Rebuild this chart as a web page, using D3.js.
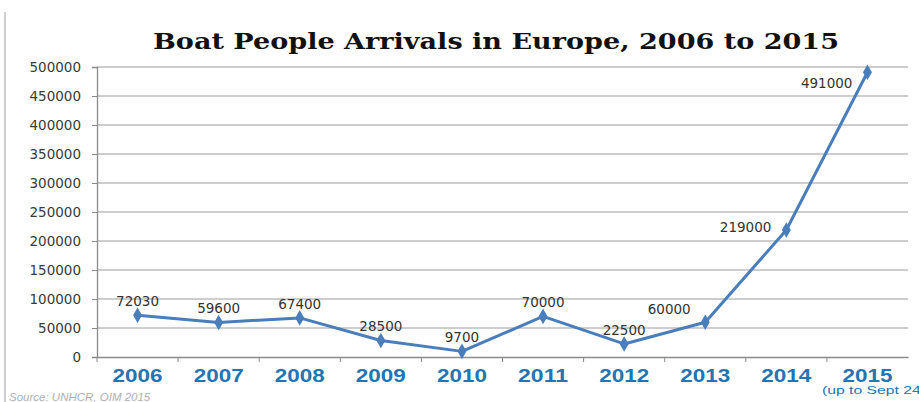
<!DOCTYPE html>
<html lang="en">
<head>
<meta charset="UTF-8">
<title>Boat People Arrivals in Europe, 2006 to 2015</title>
<script src="https://d3js.org/d3.v7.min.js"></script>
<style>
  body { margin: 0; background: #fff; }
  .tick-y { font-family: 'DejaVu Sans', sans-serif; font-size: 13.5px; fill: #3a3a3a; }
  .tick-x { font-family: 'Liberation Sans', Arial, sans-serif; font-weight: bold; font-size: 18.5px; fill: #2474b3; }
  .val { font-family: 'DejaVu Sans', sans-serif; font-size: 13.5px; fill: #333; }
</style>
</head>
<body>
<svg width="919" height="402"></svg>
<script>
const years = ["2006", "2007", "2008", "2009", "2010", "2011", "2012", "2013", "2014", "2015"];
const arrivals = [72030, 59600, 67400, 28500, 9700, 70000, 22500, 60000, 219000, 491000];
const yTicks = [0, 50000, 100000, 150000, 200000, 250000, 300000, 350000, 400000, 450000, 500000];

const width = 919, height = 402;
const margin = { left: 97, right: 11, top: 67, bottom: 45 };

const svg = d3.select("svg");

// left page border
svg.append("line")
  .attr("x1", 5).attr("x2", 5).attr("y1", 12).attr("y2", height)
  .attr("stroke", "#cfcfcf").attr("stroke-width", 2);

const x = d3.scaleBand()
  .domain(years)
  .range([margin.left, width - margin.right]);

const y = d3.scaleLinear()
  .domain([0, 500000])
  .range([height - margin.bottom, margin.top]);

// gridlines
svg.append("g")
  .selectAll("line")
  .data(yTicks.slice(1))
  .enter().append("line")
  .attr("x1", margin.left).attr("x2", width - margin.right)
  .attr("y1", d => y(d)).attr("y2", d => y(d))
  .attr("stroke", "#bdbdbd").attr("stroke-width", 1.3);

// y axis
const yAxis = svg.append("g")
  .attr("transform", `translate(${margin.left},0)`)
  .call(d3.axisLeft(y).tickValues(yTicks).tickSize(5).tickPadding(11).tickFormat(d3.format("d")));
yAxis.select(".domain").attr("stroke", "#8a8a8a").attr("stroke-width", 1.3);
yAxis.selectAll(".tick line").attr("stroke", "#8a8a8a");
yAxis.selectAll(".tick text").attr("class", "tick-y").attr("fill", null);

// x axis
const xAxis = svg.append("g")
  .attr("transform", `translate(0,${y(0)})`)
  .call(d3.axisBottom(x).tickSize(0).tickPadding(12));
xAxis.select(".domain").attr("stroke", "#8a8a8a").attr("stroke-width", 1.3);
xAxis.selectAll(".tick text")
  .attr("class", "tick-x").attr("fill", null)
  .attr("textLength", 50).attr("lengthAdjust", "spacingAndGlyphs");
xAxis.selectAll(".sep")
  .data(years)
  .enter().append("line")
  .attr("x1", d => x(d)).attr("x2", d => x(d))
  .attr("y1", 0).attr("y2", 5)
  .attr("stroke", "#8a8a8a");

// line
const cx = d => x(d) + x.bandwidth() / 2;
const line = d3.line()
  .x((d, i) => cx(years[i]))
  .y(d => y(d));

svg.append("path")
  .datum(arrivals)
  .attr("d", line)
  .attr("fill", "none")
  .attr("stroke", "#4a7ebb")
  .attr("stroke-width", 3)
  .attr("stroke-linejoin", "round");

svg.append("g")
  .selectAll("path")
  .data(arrivals)
  .enter().append("path")
  .attr("d", d3.symbol(d3.symbolDiamond, 70))
  .attr("transform", (d, i) => `translate(${cx(years[i])},${y(d)})`)
  .attr("fill", "#4a7ebb");

// value labels: last three sit to the left of their point
svg.append("g")
  .selectAll("text")
  .data(arrivals)
  .enter().append("text")
  .attr("class", "val")
  .attr("x", (d, i) => i < 7 ? cx(years[i]) : i === 7 ? cx(years[i]) - 36 : cx(years[i]) - 15)
  .attr("y", (d, i) => i < 7 ? y(d) - 9 : i === 7 ? y(d) - 8 : i === 8 ? y(d) + 2 : y(d) + 16)
  .attr("text-anchor", (d, i) => i < 8 ? "middle" : "end")
  .text(d => d);

// title
svg.append("text")
  .attr("x", 496).attr("y", 49)
  .attr("text-anchor", "middle")
  .attr("font-family", "'DejaVu Serif', serif")
  .attr("font-weight", "bold")
  .attr("font-size", 23)
  .attr("fill", "#111")
  .attr("textLength", 686)
  .attr("lengthAdjust", "spacingAndGlyphs")
  .text("Boat People Arrivals in Europe, 2006 to 2015");

// note under 2015 (runs off the right edge, as in the source image)
svg.append("text")
  .attr("x", 822).attr("y", 394)
  .attr("font-family", "'Liberation Sans', Arial, sans-serif")
  .attr("font-size", 11)
  .attr("fill", "#2474b3")
  .attr("textLength", 104)
  .attr("lengthAdjust", "spacingAndGlyphs")
  .text("(up to Sept 24)");

// source
svg.append("text")
  .attr("x", 9).attr("y", 401)
  .attr("font-family", "'Liberation Sans', Arial, sans-serif")
  .attr("font-style", "italic")
  .attr("font-size", 11.5)
  .attr("fill", "#b0b0b0")
  .text("Source: UNHCR, OIM 2015");
</script>
</body>
</html>
